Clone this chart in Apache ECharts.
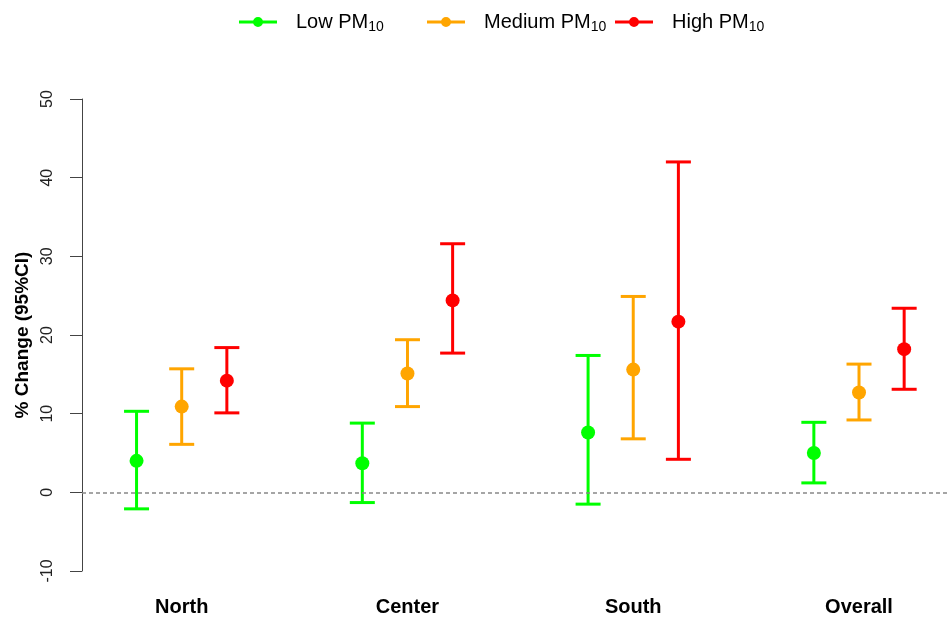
<!DOCTYPE html>
<html>
<head>
<meta charset="utf-8">
<script src="https://cdn.jsdelivr.net/npm/echarts@6/dist/echarts.min.js"></script>
<style>
html,body{margin:0;padding:0;background:#fff;}
#chart{width:949px;height:617px;}
</style>
</head>
<body>
<div id="chart"></div>
<script>
// ---- data ----
var categories = ['North', 'Center', 'South', 'Overall'];
var seriesNames = ['Low PM10', 'Medium PM10', 'High PM10'];
var lowEst  = [4.0, 3.7, 7.6, 5.0];
var lowLo   = [-2.1, -1.3, -1.5, 1.2];
var lowHi   = [10.3, 8.8, 17.4, 8.9];
var medEst  = [10.9, 15.1, 15.6, 12.7];
var medLo   = [6.1, 10.9, 6.8, 9.2];
var medHi   = [15.7, 19.4, 24.9, 16.3];
var highEst = [14.2, 24.4, 21.7, 18.2];
var highLo  = [10.1, 17.7, 4.2, 13.1];
var highHi  = [18.4, 31.6, 42.0, 23.4];
var yMin = -10, yMax = 50, yStep = 10;

// ---- styling ----
var colors = ['#00FF00', '#FFA500', '#FF0000'];
var offsets = [-0.2, 0, 0.2];
var FONT = '"Liberation Sans", Arial, sans-serif';
var groups = [
  {est: lowEst, lo: lowLo, hi: lowHi},
  {est: medEst, lo: medLo, hi: medHi},
  {est: highEst, lo: highLo, hi: highHi}
];

var series = [];
groups.forEach(function (g, i) {
  var color = colors[i];
  var ebData = categories.map(function (c, k) { return [k + 1 + offsets[i], g.lo[k], g.hi[k]]; });
  var ptData = categories.map(function (c, k) { return [k + 1 + offsets[i], g.est[k]]; });
  series.push({
    name: seriesNames[i],
    type: 'custom',
    data: ebData,
    z: 2,
    itemStyle: {color: color},
    encode: {x: 0, y: [1, 2]},
    renderItem: function (params, api) {
      var x = api.value(0), lo = api.value(1), hi = api.value(2);
      var a = api.coord([x, lo]), b = api.coord([x, hi]);
      var hw = 12.5;
      var st = {stroke: color, lineWidth: 3};
      return {type: 'group', children: [
        {type: 'line', shape: {x1: a[0], y1: a[1], x2: b[0], y2: b[1]}, style: st},
        {type: 'line', shape: {x1: a[0] - hw, y1: a[1], x2: a[0] + hw, y2: a[1]}, style: st},
        {type: 'line', shape: {x1: b[0] - hw, y1: b[1], x2: b[0] + hw, y2: b[1]}, style: st}
      ]};
    }
  });
  series.push({
    name: seriesNames[i],
    type: 'scatter',
    data: ptData,
    symbol: 'circle',
    symbolSize: 14,
    z: 3,
    itemStyle: {color: color, opacity: 1}
  });
});

// zero reference line
series.push({
  type: 'line',
  data: [],
  markLine: {
    silent: true,
    symbol: ['none', 'none'],
    label: {show: false},
    lineStyle: {color: '#888', type: [4, 3], width: 1.5},
    data: [{yAxis: 0}]
  }
});

var iconPath = 'path://M0,3.6H38V6.4H0Z M19,0A5,5 0 1 1 19,10A5,5 0 1 1 19,0Z';
var legendLefts = [234, 422, 610];
var legends = seriesNames.map(function (n, i) {
  return {
    data: [{name: n, icon: iconPath}],
    left: legendLefts[i],
    top: 7,
    itemWidth: 38,
    itemHeight: 10,
    selectedMode: false,
    formatter: function (name) {
      return '{t|' + name.replace('10', '') + '}{s|10}';
    },
    textStyle: {
      fontFamily: FONT,
      color: '#000',
      rich: {
        t: {fontSize: 20, fontFamily: FONT, color: '#000', padding: [0, 0, 0, 14]},
        s: {fontSize: 14, fontFamily: FONT, color: '#000', padding: [10, 0, 0, 0]}
      }
    }
  };
});

var chart = echarts.init(document.getElementById('chart'), null, {renderer: 'canvas'});
chart.setOption({
  backgroundColor: '#fff',
  animation: false,
  legend: legends,
  grid: {left: 82, right: 0, top: 99, bottom: 45, containLabel: false},
  xAxis: {
    type: 'value',
    min: 0.5584,
    max: 4.3986,
    axisLine: {show: false},
    axisTick: {show: false},
    splitLine: {show: false},
    axisLabel: {
      customValues: [1, 2, 3, 4],
      formatter: function (v) { return categories[Math.round(v) - 1] || ''; },
      fontFamily: FONT,
      fontSize: 20,
      fontWeight: 'bold',
      color: '#000',
      margin: 26
    }
  },
  yAxis: {
    type: 'value',
    min: yMin,
    max: yMax,
    interval: yStep,
    name: '% Change (95%CI)',
    nameLocation: 'middle',
    nameGap: 50,
    nameRotate: 90,
    nameTextStyle: {fontFamily: FONT, fontSize: 19, fontWeight: 'bold', color: '#000'},
    axisLine: {show: true, lineStyle: {color: '#444', width: 1}},
    axisTick: {show: true, length: 12, lineStyle: {color: '#444', width: 1}},
    splitLine: {show: false},
    axisLabel: {
      rotate: 90,
      fontFamily: FONT,
      fontSize: 16,
      color: '#222',
      margin: 26
    }
  },
  series: series
});
</script>
</body>
</html>
